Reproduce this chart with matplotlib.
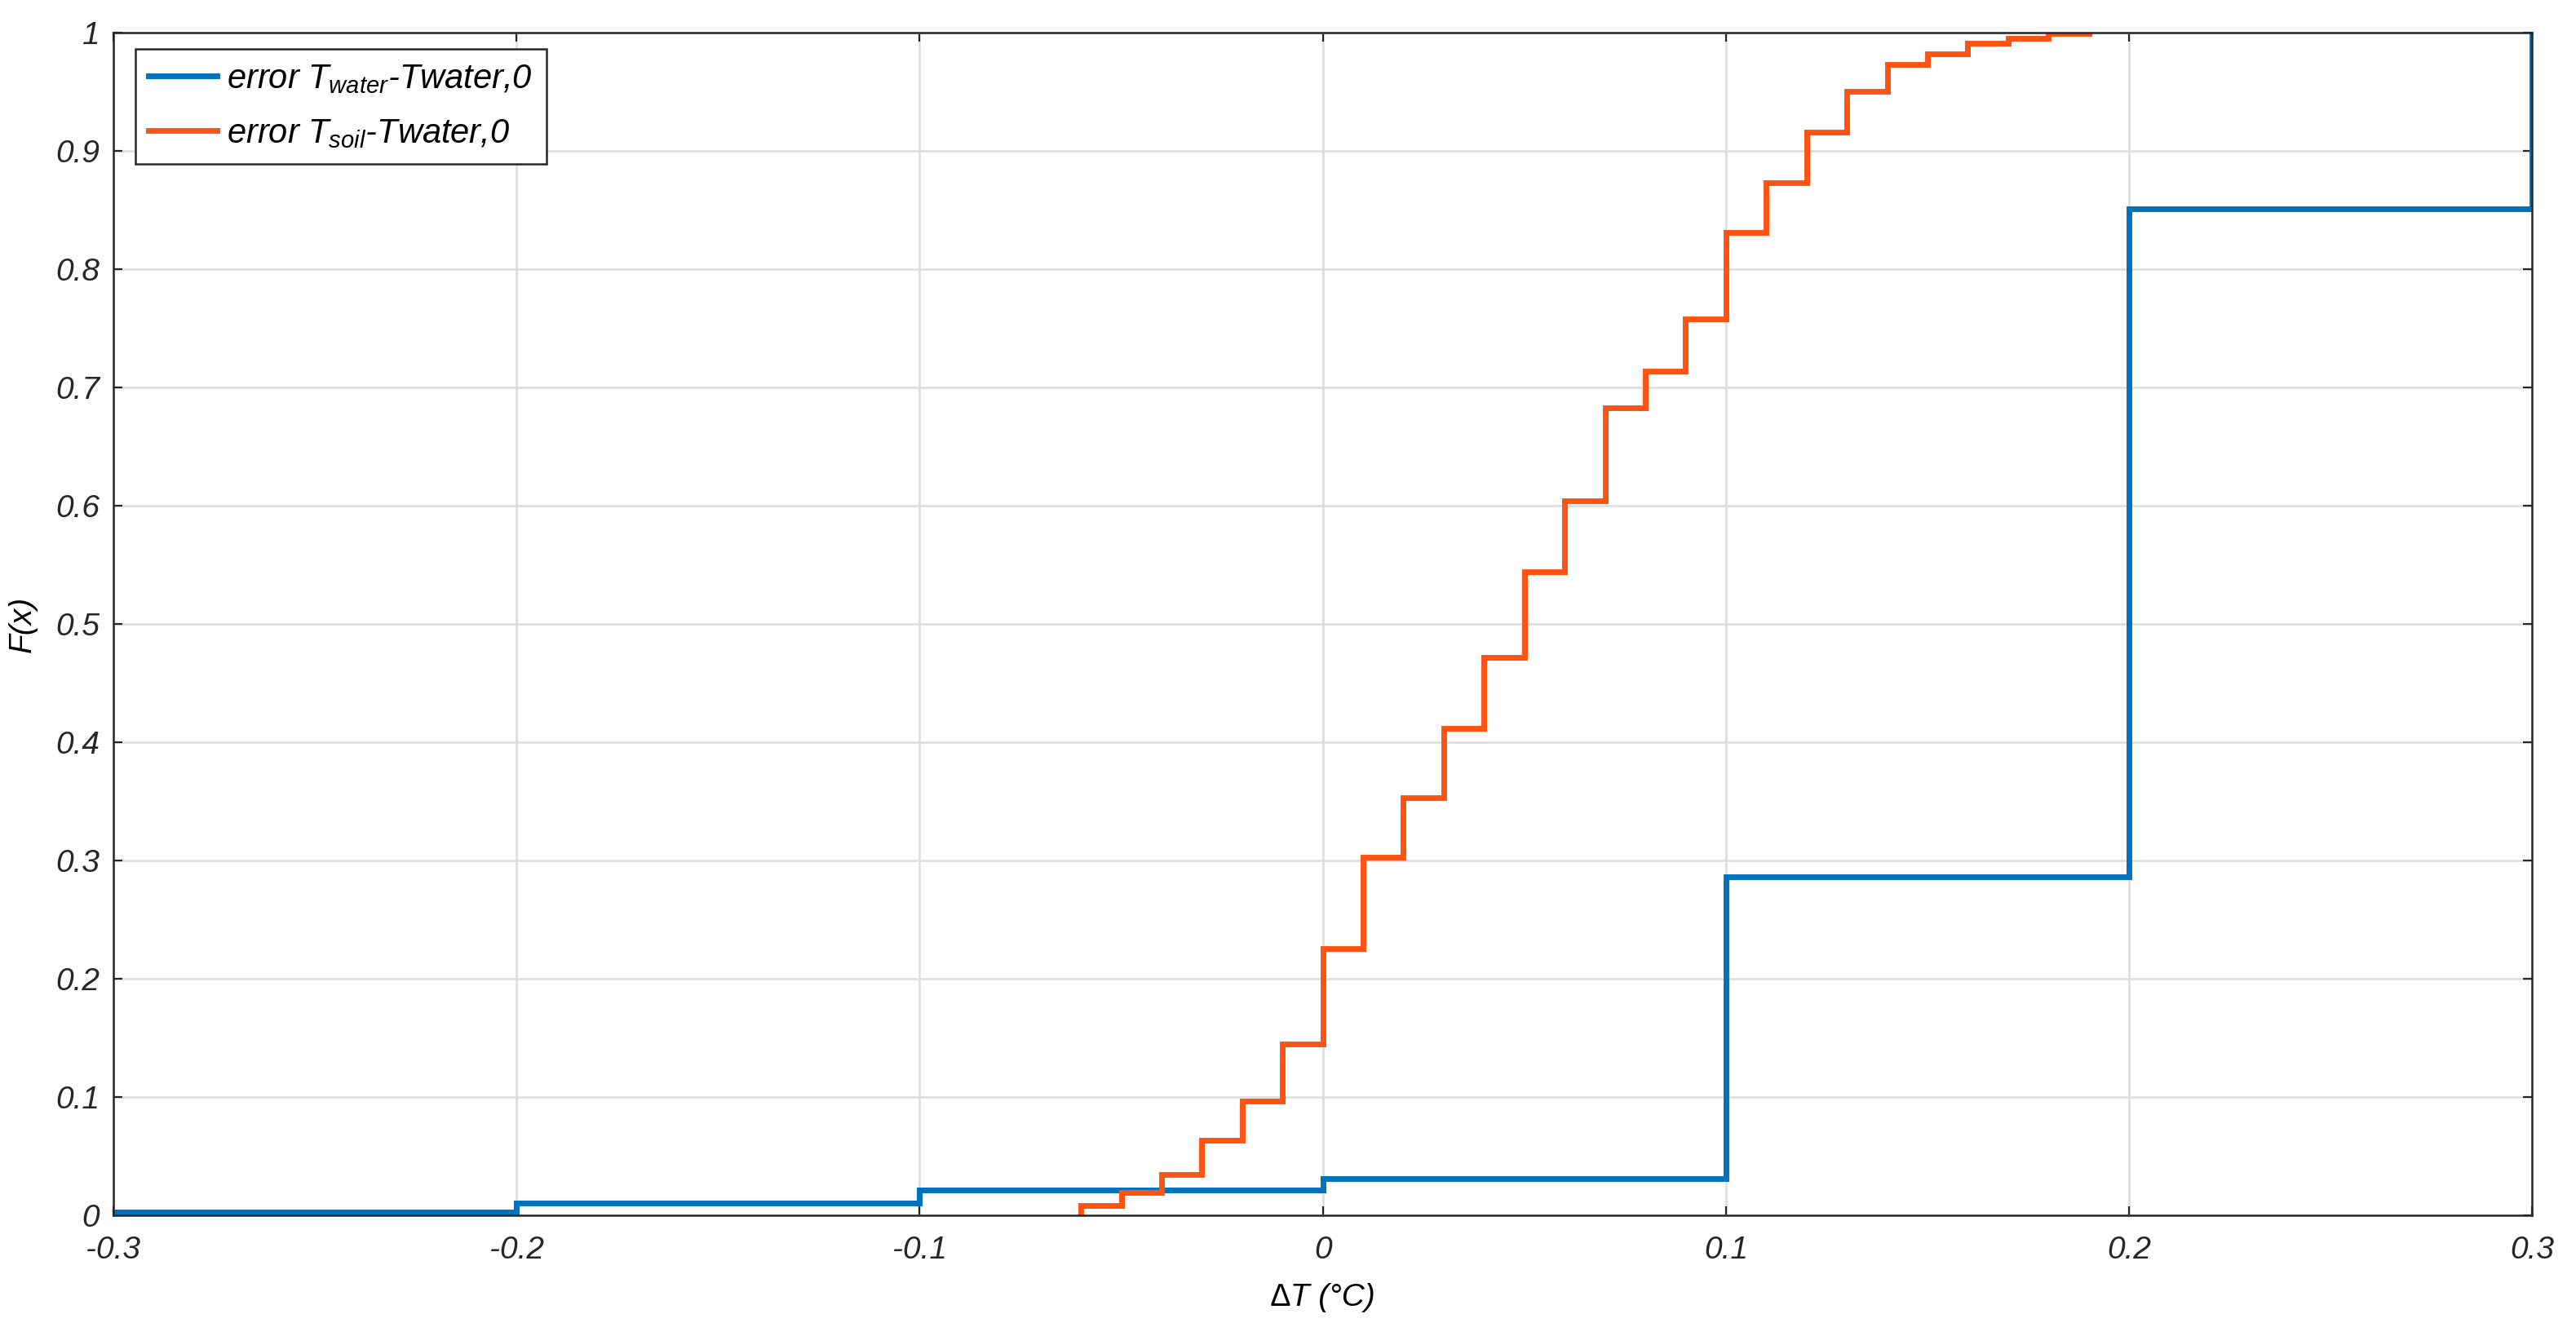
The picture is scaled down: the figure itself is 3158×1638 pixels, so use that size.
import numpy as np
import matplotlib
matplotlib.use('Agg')
import matplotlib.pyplot as plt

water_x = [-0.3, -0.2, -0.1, 0.0, 0.1, 0.2, 0.3]
water_F = [0.003, 0.0105, 0.021, 0.031, 0.286, 0.851, 1.0]

soil_x = [-0.06, -0.05, -0.04, -0.03, -0.02, -0.01, 0.0, 0.01, 0.02, 0.03,
          0.04, 0.05, 0.06, 0.07, 0.08, 0.09, 0.10, 0.11, 0.12, 0.13,
          0.14, 0.15, 0.16, 0.17, 0.18, 0.19]
soil_F = [0.008, 0.0195, 0.0345, 0.0634, 0.0966, 0.1448, 0.2257, 0.303, 0.353, 0.412,
          0.472, 0.544, 0.604, 0.683, 0.714, 0.758, 0.831, 0.873, 0.916, 0.950,
          0.973, 0.982, 0.991, 0.995, 0.999, 1.0]

x_ticks = [-0.3, -0.2, -0.1, 0, 0.1, 0.2, 0.3]
x_tick_labels = ['-0.3', '-0.2', '-0.1', '0', '0.1', '0.2', '0.3']
y_ticks = [0, 0.1, 0.2, 0.3, 0.4, 0.5, 0.6, 0.7, 0.8, 0.9, 1]
y_tick_labels = ['0', '0.1', '0.2', '0.3', '0.4', '0.5', '0.6', '0.7', '0.8', '0.9', '1']

plt.rcParams['font.family'] = ['Liberation Sans', 'DejaVu Sans']
plt.rcParams['font.style'] = 'italic'
plt.rcParams['mathtext.fontset'] = 'custom'
plt.rcParams['mathtext.it'] = 'Liberation Sans:italic'
plt.rcParams['mathtext.rm'] = 'Liberation Sans:italic'

fig = plt.figure(figsize=(15.79, 8.19), dpi=200)
ax = fig.add_axes([0.044, 0.0904, 0.939, 0.8852])

blue = '#0072BD'
orange = '#FF5314'

# prepend the zero level so each curve starts from F=0
ax.step([water_x[0]] + water_x, [0] + water_F, where='post', color=blue, lw=2.5,
        label=r'error $T_{water}$-Twater,0', solid_joinstyle='miter')
ax.step([soil_x[0]] + soil_x, [0] + soil_F, where='post', color=orange, lw=2.5,
        label=r'error $T_{soil}$-Twater,0', solid_joinstyle='miter')

ax.set_xlim(-0.3, 0.3)
ax.set_ylim(0, 1)
ax.set_xticks(x_ticks)
ax.set_xticklabels(x_tick_labels)
ax.set_yticks(y_ticks)
ax.set_yticklabels(y_tick_labels)
ax.tick_params(direction='in', length=4, width=0.8, top=True, right=True,
               labelsize=14, colors='#262626')
ax.tick_params(axis='x', pad=9)
ax.tick_params(axis='y', pad=6)
ax.grid(True, color='#dcdcdc', lw=0.9)
ax.set_axisbelow(True)
for s in ax.spines.values():
    s.set_color('#262626')
    s.set_linewidth(0.9)

ax.set_xlabel('\u2206T (\u00b0C)', fontsize=14, labelpad=8)
ax.set_ylabel('F(x)', fontsize=14, labelpad=8)

leg = ax.legend(loc='upper left', bbox_to_anchor=(0.009, 0.986), borderaxespad=0,
                fontsize=15, fancybox=False, framealpha=1, edgecolor='#262626',
                handlelength=2.0, handletextpad=0.3, borderpad=0.4, labelspacing=0.65)
leg.get_frame().set_linewidth(0.9)

fig.savefig('out.png', dpi=200)
